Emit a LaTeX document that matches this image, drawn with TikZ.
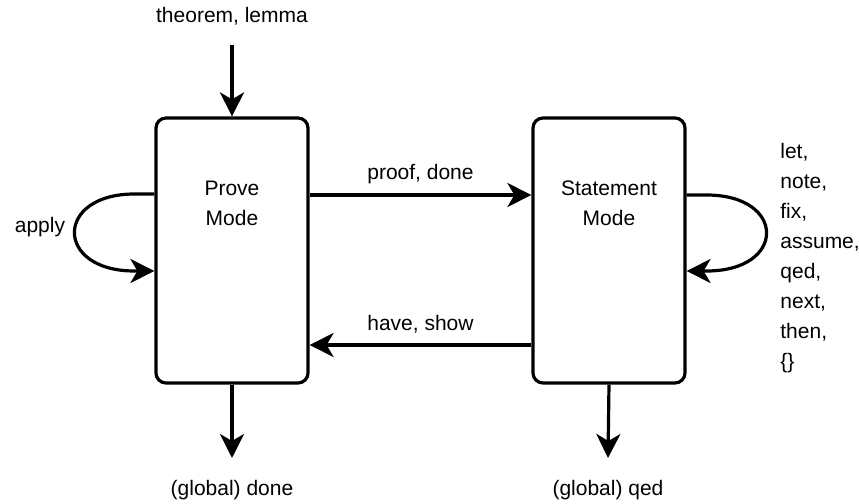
\documentclass[tikz,border=0pt]{standalone}
\usepackage{fontspec}
\setmainfont{Liberation Sans}
\usetikzlibrary{positioning,arrows.meta,calc}

\begin{document}
\begin{tikzpicture}[
        x=0.5pt, y=-0.5pt,
        font=\fontsize{10.5}{15}\selectfont,
        mode/.style={draw, rounded corners=5pt, line width=1.6pt,
                     minimum width=76pt, minimum height=132.5pt, inner sep=0pt},
        arrow/.style={-{Stealth[length=12pt,width=12pt,inset=3.5pt]}, line width=1.6pt},
        lbl/.style={inner sep=0pt, align=center},
    ]
        \useasboundingbox (0,0) rectangle (859,504);

        \node[mode]                    (prove) at (232,250.5) {};
        \node[mode]                    (stmt)  at (609,250.5) {};
        \node[lbl]                     (provetxt) at (232,203) {Prove\\Mode};
        \node[lbl]                     (stmttxt)  at (609,203) {Statement\\Mode};

        \coordinate (start) at (232,45);
        \coordinate (pend)  at (232,458);
        \coordinate (send)  at (608,458);
        \node[lbl]                     (thm)   at (232,16)  {theorem, lemma};
        \node[lbl]                     (gdone) at (232,490) {(global) done};
        \node[lbl]                     (gqed)  at (608,490) {(global) qed};

        \draw[arrow] (start) -- (prove.north);
        \draw[arrow] (prove.south) -- (pend);
        \draw[arrow] (stmt.south)  -- (send);

        \draw[arrow] (prove.east |- 0,195) -- node[lbl, above=5pt] {proof, done} (stmt.west |- 0,195);
        \draw[arrow] (stmt.west |- 0,345)  -- node[lbl, above=5pt] {have, show} (prove.east |- 0,345);

        % self loops
        \draw[arrow] (prove.west |- 0,194) -- ++(-20,0)
            .. controls +(-80,0) and +(-80,0) .. ($(prove.west |- 0,271)+(-20,0)$) -- (prove.west |- 0,271);
        \draw[arrow] (stmt.east |- 0,195) -- ++(20,0)
            .. controls +(80,0) and +(80,0) .. ($(stmt.east |- 0,271)+(20,0)$) -- (stmt.east |- 0,271);

        \node[lbl]                     (apply) at (40,227) {apply};
        \node[lbl, align=left, anchor=north west] (cmds) at (780,143)
            {let,\\note,\\fix,\\assume,\\qed,\\next,\\then,\\\{\}};
    \end{tikzpicture}
\end{document}
